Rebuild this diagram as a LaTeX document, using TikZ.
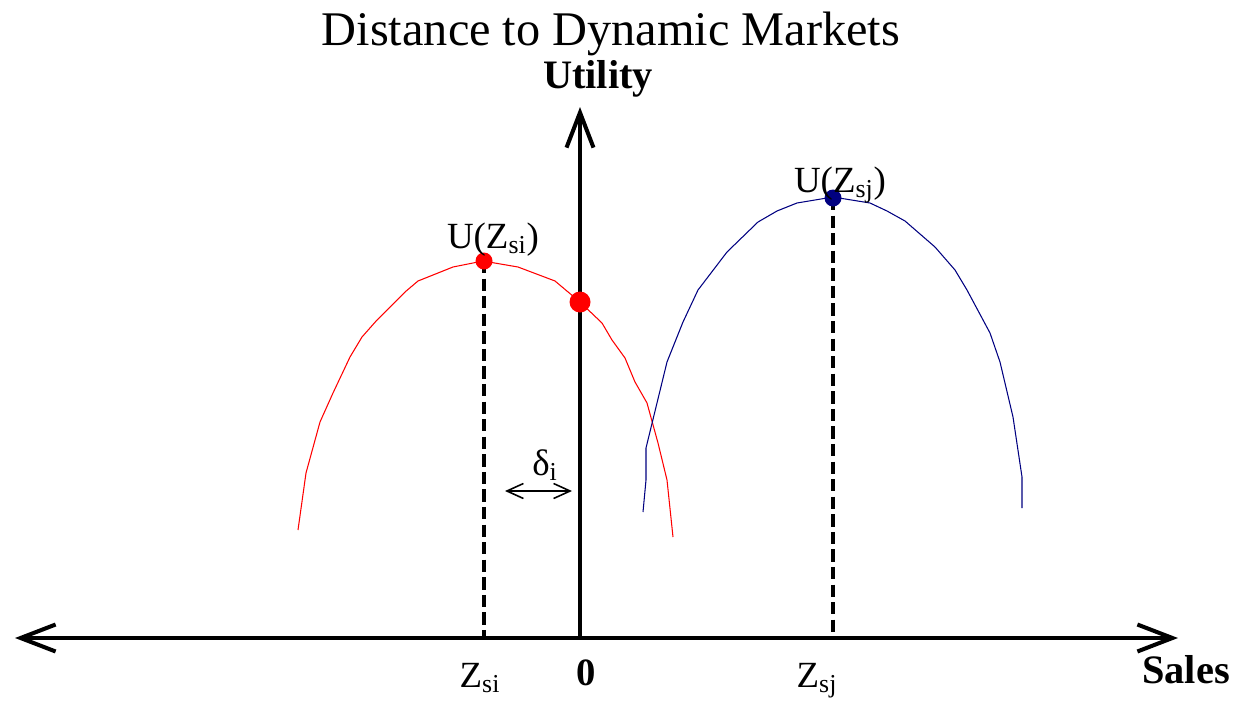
\documentclass[tikz,border=0pt]{standalone}
\usepackage{fontspec}
\setmainfont{Liberation Serif}
\usepackage{tikz}
\usetikzlibrary{arrows.meta,positioning,calc}
\definecolor{mktred}{HTML}{FF0000}
\definecolor{mktblue}{HTML}{000080}
\tikzset{axtip/.tip={Straight Barb[length=0.7cm,width=0.54cm]}, axisline/.style={line width=2.3pt,draw=black}, guide/.style={line width=2.2pt,dash pattern=on 7pt off 3pt}, curve/.style={line width=0.6pt}, lbl/.style={anchor=base,inner sep=0pt,font=\fontsize{21}{25}\selectfont}, gap/.style={line width=0.9pt,{Straight Barb[length=0.33cm,width=0.3cm]}-{Straight Barb[length=0.33cm,width=0.3cm]}}}

\begin{document}
\begin{tikzpicture}[x=0.02cm,y=-0.02cm]
\useasboundingbox (0,0) rectangle (1234,700);
\coordinate (o) at (580,638);
\coordinate (xl) at (15,638);
\coordinate (xr) at (1178,638);
\coordinate (yt) at (580,107);
\coordinate (pi) at (484,261);
\coordinate (pj) at (833,198);
\coordinate (fi) at (484,638);
\coordinate (fj) at (833,638);
\coordinate (ci) at (580,302);
\coordinate (dl) at (505,491);
\coordinate (dr) at (572,491);
% axes
\draw[axisline,axtip-axtip] (xl) -- (xr);
\draw[axisline,-axtip] (o) -- (yt);
% utility curves
\draw[curve,mktred] plot coordinates {(298,530) (306,473) (320,422) (333,393) (350,357) (362,337) (377,320) (405,292) (418,281) (453,267) (483,261) (518,267) (555,281) (580,302) (602,323) (612,340) (625,358) (635,382) (647,403) (658,443) (667,480) (673,537)};
\draw[curve,mktblue] plot coordinates {(643,512) (646,480) (646,448) (667,362) (683,322) (698,290) (727,252) (758,222) (777,211) (797,203) (833,197) (870,203) (887,211) (905,221) (935,247) (955,270) (967,290) (990,333) (1000,362) (1013,417) (1022,477) (1022,508)};
\draw[guide] (pi) -- (fi);
\draw[guide] (pj) -- (fj);
\fill[mktred] (pi) circle (8.5);
\fill[mktred] (ci) circle (10.5);
\fill[mktblue] (pj) circle (8.5);
\draw[gap] (dl) -- (dr);
% labels
\node[lbl,font=\fontsize{27.5}{32}\selectfont] (title) at (611,45) {Distance to Dynamic Markets};
\node[lbl,font=\fontsize{23}{27}\selectfont\bfseries] (util) at (598,88) {Utility};
\node[lbl] (ui) at (493,248) {U(Z\textsubscript{si})};
\node[lbl] (uj) at (840,192) {U(Z\textsubscript{sj})};
\node[lbl] (delta) at (545,475) {δ\textsubscript{i}};
\node[lbl] (zi) at (480,687) {Z\textsubscript{si}};
\node[lbl,font=\fontsize{22}{26}\selectfont\bfseries] (zero) at (586,685) {0};
\node[lbl] (zj) at (817,687) {Z\textsubscript{sj}};
\node[lbl,font=\fontsize{23}{27}\selectfont\bfseries] (sales) at (1186,683) {Sales};
\end{tikzpicture}
\end{document}
